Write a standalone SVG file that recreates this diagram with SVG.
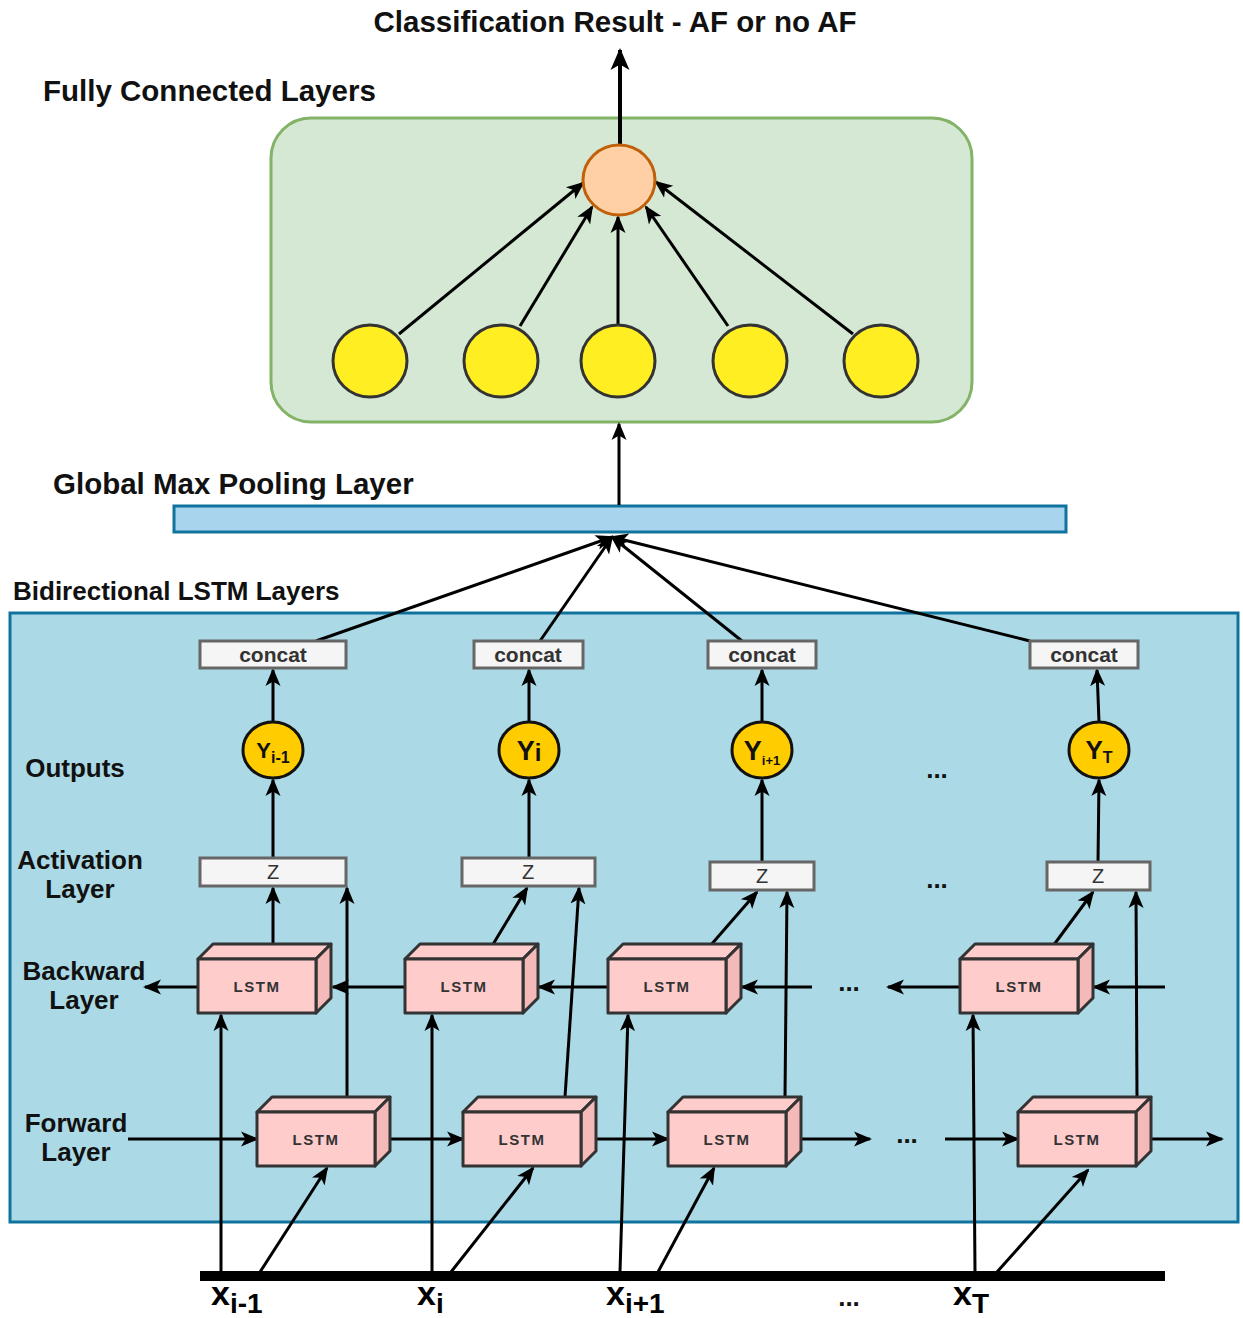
<svg xmlns="http://www.w3.org/2000/svg" xmlns:xlink="http://www.w3.org/1999/xlink" width="1243" height="1318" viewBox="0 0 1243 1318">
  <style>
    .lbl { font-family: "Liberation Sans", Arial, sans-serif; font-weight: bold; fill: #111; }
    .head { font-size: 29.5px; }
    .side { font-size: 26px; }
    .dots { font-size: 26px; }
    .concat { font-family: "Liberation Sans", Arial, sans-serif; font-weight: bold; font-size: 21px; fill: #333; }
    .z { font-family: "Liberation Sans", Arial, sans-serif; font-size: 20px; fill: #333; }
    .lstm { font-family: "Liberation Sans", Arial, sans-serif; font-weight: bold; font-size: 15px; letter-spacing: 1.5px; fill: #333; }
    .ylbl { font-family: "Liberation Sans", Arial, sans-serif; font-weight: bold; fill: #111; }
    .xlbl { font-family: "Liberation Sans", Arial, sans-serif; font-weight: bold; fill: #000; }
    .box { fill: #f5f5f5; stroke: #666; stroke-width: 3; }
    .yout { fill: #ffcc00; stroke: #111; stroke-width: 3; }
    .neuron { fill: #ffee22; stroke: #333; stroke-width: 3; }
    .cf { fill: #ffcccc; stroke: #333; stroke-width: 3; stroke-linejoin: round; }
    .cs { fill: #f4b9b9; stroke: #333; stroke-width: 3; stroke-linejoin: round; }
    .edge { fill: none; stroke: #000; stroke-width: 3; marker-end: url(#arr); }
  </style>
  <defs>
    <marker id="arr" markerUnits="userSpaceOnUse" markerWidth="18" markerHeight="18" viewBox="0 0 18 18" refX="16" refY="9" orient="auto">
      <path d="M0,1.5 L18,9 L0,16.5 L4.5,9 z" fill="#000"/>
    </marker>
    <marker id="arrBig" markerUnits="userSpaceOnUse" markerWidth="22" markerHeight="22" viewBox="0 0 22 22" refX="20" refY="11" orient="auto">
      <path d="M0,1.5 L22,11 L0,20.5 L5.5,11 z" fill="#000"/>
    </marker>
    <!-- 3D LSTM cell: front face origin at top-left -->
    <g id="cube">
      <polygon class="cf" points="0,0 15,-15 133,-15 118,0"/>
      <polygon class="cs" points="118,0 133,-15 133,39 118,54"/>
      <rect class="cf" x="0" y="0" width="118" height="54"/>
    </g>
  </defs>

  <rect width="1243" height="1318" fill="#fff"/>

  <!-- Section titles -->
  <text class="lbl head" x="615" y="32" text-anchor="middle">Classification Result - AF or no AF</text>
  <text class="lbl head" x="43" y="101">Fully Connected Layers</text>
  <text class="lbl head" x="53" y="494">Global Max Pooling Layer</text>
  <text class="lbl" x="13" y="600" font-size="26">Bidirectional LSTM Layers</text>

  <!-- Containers -->
  <g id="fc-layers">
    <rect x="271" y="118" width="701" height="304" rx="40" ry="40" fill="#d5e8d4" stroke="#82b366" stroke-width="3"/>
  </g>
  <g id="pooling">
    <rect x="174" y="506" width="892" height="26" fill="#a9d4ee" stroke="#10739e" stroke-width="3"/>
  </g>
  <g id="bilstm">
    <rect x="10" y="613" width="1228" height="609" fill="#abd9e6" stroke="#10739e" stroke-width="3"/>
  </g>

  <!-- Row labels -->
  <g id="row-labels">
    <text class="lbl side" x="75" y="777" text-anchor="middle">Outputs</text>
    <text class="lbl side" x="80" y="869" text-anchor="middle">Activation</text>
    <text class="lbl side" x="80" y="898" text-anchor="middle">Layer</text>
    <text class="lbl side" x="84" y="980" text-anchor="middle">Backward</text>
    <text class="lbl side" x="84" y="1009" text-anchor="middle">Layer</text>
    <text class="lbl side" x="76" y="1132" text-anchor="middle">Forward</text>
    <text class="lbl side" x="76" y="1161" text-anchor="middle">Layer</text>
  </g>

  <!-- Connectors -->
  <g id="connectors">
    <!-- output -->
    <line x1="620" y1="144" x2="620" y2="50" fill="none" stroke="#000" stroke-width="4" marker-end="url(#arrBig)"/>
    <!-- dense to output neuron -->
    <line class="edge" x1="399" y1="334" x2="583" y2="183"/>
    <line class="edge" x1="520" y1="326" x2="592" y2="207"/>
    <line class="edge" x1="618" y1="324" x2="618" y2="217"/>
    <line class="edge" x1="728" y1="326" x2="646" y2="207"/>
    <line class="edge" x1="853" y1="334" x2="656" y2="182"/>
    <!-- pooling to dense -->
    <line class="edge" x1="619" y1="505" x2="619" y2="424"/>
    <!-- concat to pooling -->
    <line class="edge" x1="316" y1="641" x2="612" y2="537"/>
    <line class="edge" x1="540" y1="641" x2="612" y2="537"/>
    <line class="edge" x1="742" y1="641" x2="612" y2="537"/>
    <line class="edge" x1="1030" y1="641" x2="612" y2="537"/>
    <!-- outputs to concat -->
    <line class="edge" x1="273" y1="722" x2="273" y2="670"/>
    <line class="edge" x1="529" y1="722" x2="529" y2="670"/>
    <line class="edge" x1="762" y1="722" x2="762" y2="670"/>
    <line class="edge" x1="1099" y1="722" x2="1097" y2="670"/>
    <!-- activation to outputs -->
    <line class="edge" x1="273" y1="858" x2="273" y2="780"/>
    <line class="edge" x1="529" y1="858" x2="529" y2="780"/>
    <line class="edge" x1="762" y1="862" x2="762" y2="780"/>
    <line class="edge" x1="1098" y1="862" x2="1099" y2="780"/>
    <!-- backward cells to activation -->
    <line class="edge" x1="273" y1="946" x2="273" y2="888"/>
    <line class="edge" x1="492" y1="946" x2="527" y2="888"/>
    <line class="edge" x1="710" y1="946" x2="757" y2="892"/>
    <line class="edge" x1="1053" y1="946" x2="1093" y2="892"/>
    <!-- forward cells to activation -->
    <line class="edge" x1="347" y1="1097" x2="347" y2="888"/>
    <line class="edge" x1="565" y1="1097" x2="579" y2="888"/>
    <line class="edge" x1="785" y1="1097" x2="787" y2="892"/>
    <line class="edge" x1="1137" y1="1097" x2="1136" y2="892"/>
    <!-- backward chain -->
    <line class="edge" x1="198" y1="987" x2="145" y2="987"/>
    <line class="edge" x1="405" y1="987" x2="333" y2="987"/>
    <line class="edge" x1="608" y1="987" x2="539" y2="987"/>
    <line class="edge" x1="812" y1="987" x2="742" y2="987"/>
    <line class="edge" x1="960" y1="987" x2="888" y2="987"/>
    <line class="edge" x1="1165" y1="987" x2="1094" y2="987"/>
    <!-- forward chain -->
    <line class="edge" x1="128" y1="1139" x2="257" y2="1139"/>
    <line class="edge" x1="390" y1="1139" x2="463" y2="1139"/>
    <line class="edge" x1="597" y1="1139" x2="668" y2="1139"/>
    <line class="edge" x1="800" y1="1139" x2="870" y2="1139"/>
    <line class="edge" x1="945" y1="1139" x2="1018" y2="1139"/>
    <line class="edge" x1="1150" y1="1139" x2="1222" y2="1139"/>
    <!-- inputs to cells -->
    <line class="edge" x1="221" y1="1272" x2="221" y2="1015"/>
    <line class="edge" x1="260" y1="1272" x2="327" y2="1168"/>
    <line class="edge" x1="432" y1="1272" x2="432" y2="1015"/>
    <line class="edge" x1="451" y1="1272" x2="533" y2="1168"/>
    <line class="edge" x1="620" y1="1272" x2="628" y2="1015"/>
    <line class="edge" x1="658" y1="1272" x2="714" y2="1168"/>
    <line class="edge" x1="975" y1="1272" x2="973" y2="1015"/>
    <line class="edge" x1="997" y1="1272" x2="1088" y2="1170"/>
  </g>

  <!-- Dense layer neurons -->
  <g id="out-neuron"><ellipse cx="619" cy="180" rx="36" ry="35" fill="#ffd0a6" stroke="#c0600a" stroke-width="3"/></g>
  <g id="n1"><ellipse class="neuron" cx="370" cy="361" rx="37" ry="36"/></g>
  <g id="n2"><ellipse class="neuron" cx="501" cy="361" rx="37" ry="36"/></g>
  <g id="n3"><ellipse class="neuron" cx="618" cy="361" rx="37" ry="36"/></g>
  <g id="n4"><ellipse class="neuron" cx="750" cy="361" rx="37" ry="36"/></g>
  <g id="n5"><ellipse class="neuron" cx="881" cy="361" rx="37" ry="36"/></g>

  <!-- concat boxes -->
  <g id="concat1"><rect class="box" x="200" y="641" width="146" height="27"/><text class="concat" x="273" y="662" text-anchor="middle">concat</text></g>
  <g id="concat2"><rect class="box" x="474" y="641" width="109" height="27"/><text class="concat" x="528" y="662" text-anchor="middle">concat</text></g>
  <g id="concat3"><rect class="box" x="708" y="641" width="108" height="27"/><text class="concat" x="762" y="662" text-anchor="middle">concat</text></g>
  <g id="concat4"><rect class="box" x="1030" y="641" width="108" height="27"/><text class="concat" x="1084" y="662" text-anchor="middle">concat</text></g>

  <!-- outputs -->
  <g id="y1"><ellipse class="yout" cx="273" cy="750" rx="30" ry="28"/><text class="ylbl" x="273" y="758" text-anchor="middle" font-size="22">Y<tspan font-size="16" dy="5">i-1</tspan></text></g>
  <g id="y2"><ellipse class="yout" cx="529" cy="750" rx="30" ry="28"/><text class="ylbl" x="529" y="760" text-anchor="middle" font-size="27">Y<tspan font-size="24" dy="1">i</tspan></text></g>
  <g id="y3"><ellipse class="yout" cx="762" cy="750" rx="30" ry="28"/><text class="ylbl" x="762" y="760" text-anchor="middle" font-size="27">Y<tspan font-size="13" dy="5">i+1</tspan></text></g>
  <g id="y4"><ellipse class="yout" cx="1099" cy="750" rx="30" ry="28"/><text class="ylbl" x="1099" y="759" text-anchor="middle" font-size="26">Y<tspan font-size="16" dy="4">T</tspan></text></g>
  <text class="lbl dots" x="937" y="778" text-anchor="middle">...</text>

  <!-- activation boxes -->
  <g id="z1"><rect class="box" x="200" y="858" width="146" height="28"/><text class="z" x="273" y="879" text-anchor="middle">Z</text></g>
  <g id="z2"><rect class="box" x="462" y="858" width="133" height="28"/><text class="z" x="528" y="879" text-anchor="middle">Z</text></g>
  <g id="z3"><rect class="box" x="710" y="862" width="104" height="28"/><text class="z" x="762" y="883" text-anchor="middle">Z</text></g>
  <g id="z4"><rect class="box" x="1047" y="862" width="103" height="28"/><text class="z" x="1098" y="883" text-anchor="middle">Z</text></g>
  <text class="lbl dots" x="937" y="888" text-anchor="middle">...</text>

  <!-- backward LSTM cells -->
  <g id="bw1" transform="translate(198,959)"><use xlink:href="#cube"/><text class="lstm" x="59" y="33" text-anchor="middle">LSTM</text></g>
  <g id="bw2" transform="translate(405,959)"><use xlink:href="#cube"/><text class="lstm" x="59" y="33" text-anchor="middle">LSTM</text></g>
  <g id="bw3" transform="translate(608,959)"><use xlink:href="#cube"/><text class="lstm" x="59" y="33" text-anchor="middle">LSTM</text></g>
  <g id="bw4" transform="translate(960,959)"><use xlink:href="#cube"/><text class="lstm" x="59" y="33" text-anchor="middle">LSTM</text></g>
  <text class="lbl dots" x="849" y="991" text-anchor="middle">...</text>

  <!-- forward LSTM cells -->
  <g id="fw1" transform="translate(257,1112)"><use xlink:href="#cube"/><text class="lstm" x="59" y="33" text-anchor="middle">LSTM</text></g>
  <g id="fw2" transform="translate(463,1112)"><use xlink:href="#cube"/><text class="lstm" x="59" y="33" text-anchor="middle">LSTM</text></g>
  <g id="fw3" transform="translate(668,1112)"><use xlink:href="#cube"/><text class="lstm" x="59" y="33" text-anchor="middle">LSTM</text></g>
  <g id="fw4" transform="translate(1018,1112)"><use xlink:href="#cube"/><text class="lstm" x="59" y="33" text-anchor="middle">LSTM</text></g>
  <text class="lbl dots" x="907" y="1143" text-anchor="middle">...</text>

  <!-- input sequence -->
  <g id="inputs">
    <rect x="200" y="1271" width="965" height="10" fill="#000"/>
    <text class="xlbl" x="211" y="1305" font-size="34">x<tspan font-size="28" dy="8">i-1</tspan></text>
    <text class="xlbl" x="417" y="1305" font-size="34">x<tspan font-size="28" dy="8">i</tspan></text>
    <text class="xlbl" x="606" y="1305" font-size="34">x<tspan font-size="28" dy="8">i+1</tspan></text>
    <text class="lbl dots" x="849" y="1306" text-anchor="middle">...</text>
    <text class="xlbl" x="953" y="1305" font-size="34">x<tspan font-size="28" dy="8">T</tspan></text>
  </g>
</svg>
